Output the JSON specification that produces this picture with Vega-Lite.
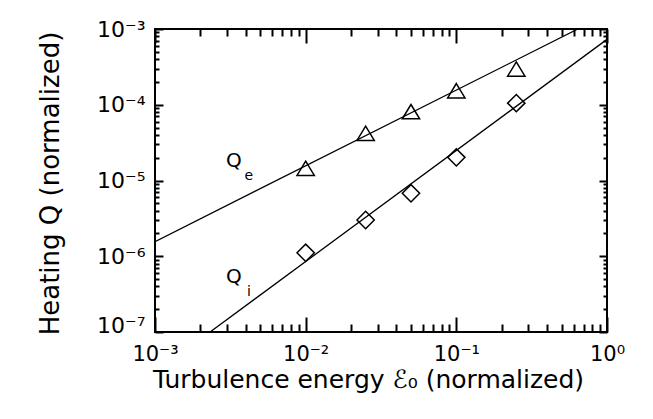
{
  "$schema": "https://vega.github.io/schema/vega-lite/v6.json",
  "width": 452,
  "height": 303,
  "autosize": {"type": "none"},
  "padding": {"left": 155, "top": 29, "right": 46, "bottom": 87},
  "background": "white",
  "config": {
    "view": {"stroke": "black", "strokeWidth": 2},
    "font": "DejaVu Sans",
    "axis": {
      "grid": false,
      "domain": false,
      "tickColor": "black",
      "tickWidth": 2,
      "labelColor": "black",
      "labelFont": "DejaVu Sans",
      "labelFontSize": 22,
      "labelOverlap": false,
      "labelFlush": false,
      "labelBound": false,
      "titleFont": "DejaVu Sans",
      "titleFontSize": 26,
      "titleFontWeight": "normal",
      "titleColor": "black"
    }
  },
  "datasets": {
    "fit": [
      {"series": "Qe", "x": 0.001, "y": 1.56e-6},
      {"series": "Qe", "x": 0.641, "y": 1.0e-3},
      {"series": "Qi", "x": 0.00232, "y": 1.0e-7},
      {"series": "Qi", "x": 1.0, "y": 7.3e-4}
    ],
    "pts": [
      {"series": "Qe", "x": 0.01, "y": 1.45e-5},
      {"series": "Qe", "x": 0.025, "y": 4.2e-5},
      {"series": "Qe", "x": 0.05, "y": 8.1e-5},
      {"series": "Qe", "x": 0.1, "y": 1.53e-4},
      {"series": "Qe", "x": 0.25, "y": 2.96e-4},
      {"series": "Qi", "x": 0.01, "y": 1.11e-6},
      {"series": "Qi", "x": 0.025, "y": 3.01e-6},
      {"series": "Qi", "x": 0.05, "y": 6.78e-6},
      {"series": "Qi", "x": 0.1, "y": 2.02e-5},
      {"series": "Qi", "x": 0.25, "y": 1.05e-4}
    ],
    "labels": [
      {"name": "Q", "sub": "e", "x": 0.00334, "y": 1.81e-5},
      {"name": "Q", "sub": "i", "x": 0.00334, "y": 5.32e-7}
    ]
  },
  "layer": [
    {
      "data": {"name": "fit"},
      "mark": {"type": "line", "color": "black", "strokeWidth": 1.3, "clip": true},
      "encoding": {
        "x": {
          "field": "x", "type": "quantitative",
          "scale": {"type": "log", "domain": [0.001, 1], "nice": false},
          "axis": {
            "orient": "bottom",
            "title": "Turbulence energy ℰ₀ (normalized)",
            "titleFontSize": 25,
            "titleX": 213,
            "titleY": 70,
            "titleBaseline": "alphabetic",
            "values": [0.001, 0.01, 0.1, 1],
            "labelExpr": "'10' + (round(log(datum.value)/LN10) < 0 ? '⁻' : '') + ['⁰','¹','²','³','⁴','⁵','⁶','⁷','⁸','⁹'][abs(round(log(datum.value)/LN10))]",
            "labelFontSize": 21,
            "offset": -15,
            "tickSize": 15,
            "labelPadding": 11
          }
        },
        "y": {
          "field": "y", "type": "quantitative",
          "scale": {"type": "log", "domain": [1e-7, 1e-3], "nice": false},
          "axis": {
            "orient": "left",
            "title": "Heating Q (normalized)",
            "titleAngle": 270,
            "titleX": -126,
            "titleY": 154,
            "titleBaseline": "top",
            "titleAlign": "center",
            "values": [1e-7, 1e-6, 1e-5, 1e-4, 1e-3],
            "labelExpr": "'10' + (round(log(datum.value)/LN10) < 0 ? '⁻' : '') + ['⁰','¹','²','³','⁴','⁵','⁶','⁷','⁸','⁹'][abs(round(log(datum.value)/LN10))]",
            "labelBaseline": {"condition": {"test": "datum.value < 1.5e-7", "value": "alphabetic"}, "value": "middle"},
            "offset": -8,
            "tickSize": 8,
            "labelPadding": 10
          }
        },
        "detail": {"field": "series"}
      }
    },
    {
      "data": {"name": "pts"},
      "mark": {"type": "point", "filled": false, "stroke": "black", "strokeWidth": 1.5, "opacity": 1},
      "encoding": {
        "x": {
          "field": "x", "type": "quantitative",
          "scale": {"type": "log", "domain": [0.001, 1], "nice": false},
          "axis": {"orient": "top", "title": null, "labels": false, "values": [0.001, 0.01, 0.1, 1], "offset": -14, "tickSize": 14}
        },
        "y": {
          "field": "y", "type": "quantitative",
          "scale": {"type": "log", "domain": [1e-7, 1e-3], "nice": false},
          "axis": {"orient": "right", "title": null, "labels": false, "values": [1e-7, 1e-6, 1e-5, 1e-4, 1e-3], "offset": -8, "tickSize": 8}
        },
        "shape": {
          "field": "series", "type": "nominal",
          "scale": {"domain": ["Qe", "Qi"], "range": ["M0,-0.83L1,0.83L-1,0.83Z", "diamond"]},
          "legend": null
        },
        "size": {"value": 300}
      }
    },
    {
      "data": {"name": "labels"},
      "mark": {"type": "text", "fontSize": 20, "font": "DejaVu Sans", "color": "black", "align": "center", "baseline": "middle"},
      "encoding": {
        "x": {
          "field": "x", "type": "quantitative",
          "scale": {"type": "log", "domain": [0.001, 1], "nice": false},
          "axis": {"orient": "bottom", "title": null, "labels": false, "offset": -8, "tickSize": 8,
            "values": [0.002,0.003,0.004,0.005,0.006,0.007,0.008,0.009,0.02,0.03,0.04,0.05,0.06,0.07,0.08,0.09,0.2,0.3,0.4,0.5,0.6,0.7,0.8,0.9]}
        },
        "y": {
          "field": "y", "type": "quantitative",
          "scale": {"type": "log", "domain": [1e-7, 1e-3], "nice": false},
          "axis": {"orient": "left", "title": null, "labels": false, "offset": -4, "tickSize": 4,
            "values": [2e-7,3e-7,4e-7,5e-7,6e-7,7e-7,8e-7,9e-7,2e-6,3e-6,4e-6,5e-6,6e-6,7e-6,8e-6,9e-6,2e-5,3e-5,4e-5,5e-5,6e-5,7e-5,8e-5,9e-5,2e-4,3e-4,4e-4,5e-4,6e-4,7e-4,8e-4,9e-4]}
        },
        "text": {"field": "name"}
      }
    },
    {
      "data": {"name": "labels"},
      "mark": {"type": "text", "fontSize": 14, "font": "DejaVu Sans", "color": "black", "align": "center", "baseline": "middle", "dx": 15, "dy": 15},
      "encoding": {
        "x": {
          "field": "x", "type": "quantitative",
          "scale": {"type": "log", "domain": [0.001, 1], "nice": false},
          "axis": {"orient": "top", "title": null, "labels": false, "offset": -7, "tickSize": 7,
            "values": [0.002,0.003,0.004,0.005,0.006,0.007,0.008,0.009,0.02,0.03,0.04,0.05,0.06,0.07,0.08,0.09,0.2,0.3,0.4,0.5,0.6,0.7,0.8,0.9]}
        },
        "y": {
          "field": "y", "type": "quantitative",
          "scale": {"type": "log", "domain": [1e-7, 1e-3], "nice": false},
          "axis": {"orient": "right", "title": null, "labels": false, "offset": -4, "tickSize": 4,
            "values": [2e-7,3e-7,4e-7,5e-7,6e-7,7e-7,8e-7,9e-7,2e-6,3e-6,4e-6,5e-6,6e-6,7e-6,8e-6,9e-6,2e-5,3e-5,4e-5,5e-5,6e-5,7e-5,8e-5,9e-5,2e-4,3e-4,4e-4,5e-4,6e-4,7e-4,8e-4,9e-4]}
        },
        "text": {"field": "sub"}
      }
    }
  ],
  "resolve": {"axis": {"x": "independent", "y": "independent"}}
}
